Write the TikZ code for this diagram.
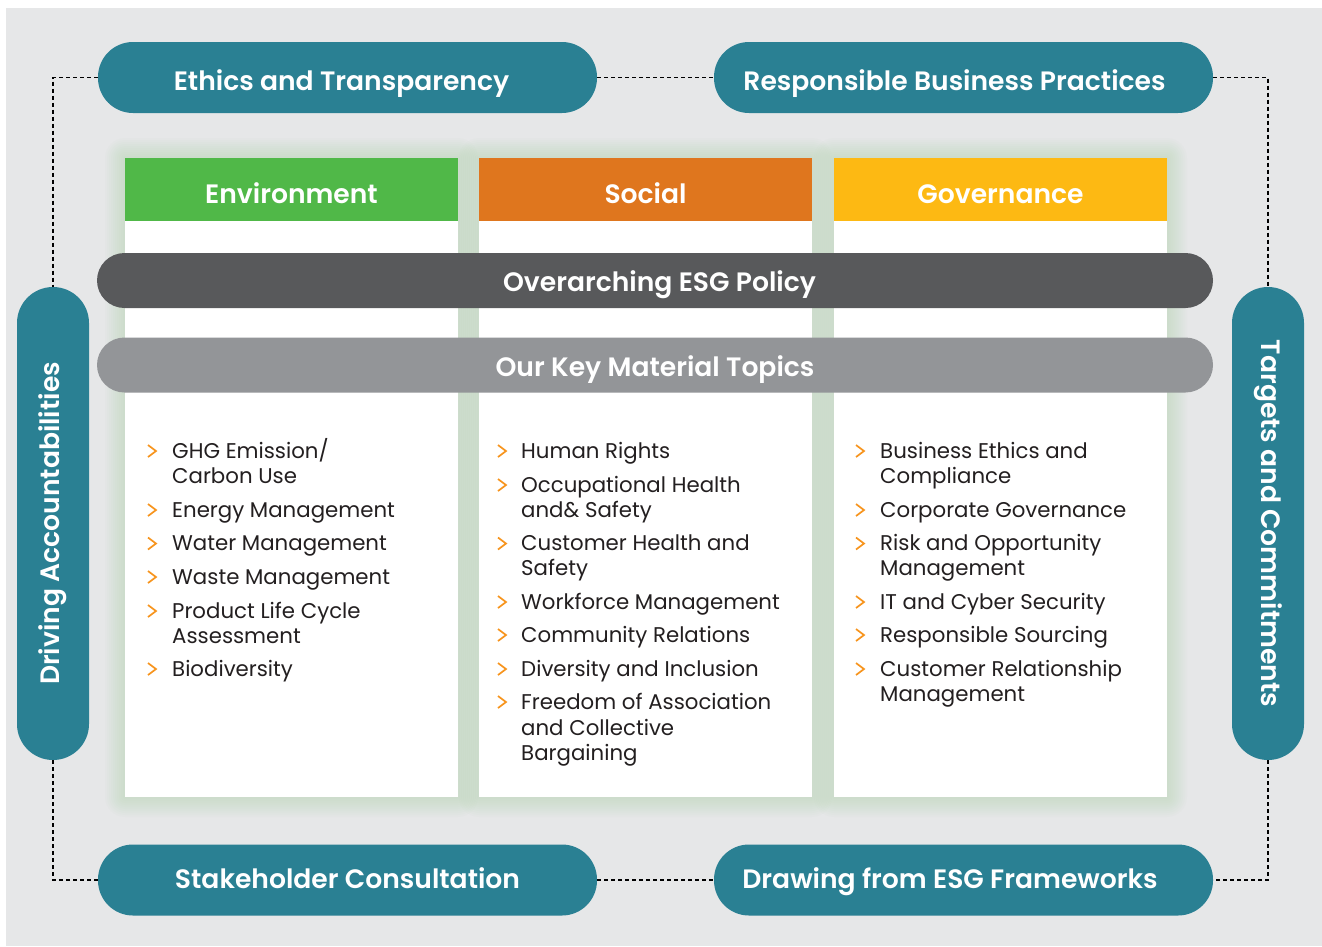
\documentclass[tikz,border=0pt]{standalone}
\usepackage{fontspec}
\setmainfont{Poppins}
\newfontfamily\psemi{Poppins SemiBold}
\usetikzlibrary{calc}
\definecolor{bgc}{HTML}{E6E7E8}
\definecolor{teal}{HTML}{2A8093}
\definecolor{envc}{HTML}{50B848}
\definecolor{socc}{HTML}{DF761E}
\definecolor{govc}{HTML}{FDB913}
\definecolor{darkbar}{HTML}{58595B}
\definecolor{lightbar}{HTML}{939598}
\definecolor{chevc}{HTML}{F7941D}
\definecolor{txtc}{HTML}{231F20}
\definecolor{glowc}{HTML}{A9CFA4}
\tikzset{
  semib/.style={font=\psemi\fontsize{26.6}{30}\selectfont},
  th/.style={text height=#1, text depth=0pt},
  pill/.style={semib, fill=teal, text=white, rounded corners=35pt, minimum width=499pt, minimum height=71pt, inner sep=0pt},
  vpill/.style={semib, fill=teal, text=white, rounded corners=36pt, minimum width=72pt, minimum height=473pt, inner sep=0pt},
  head/.style={semib, th=27pt, text=white, minimum width=333pt, minimum height=63pt, inner sep=0pt},
  colbody/.style={fill=white, minimum width=333pt, minimum height=576pt, inner sep=0pt},
  bar/.style={semib, th=21.5pt, text=white, rounded corners=27.5pt, minimum width=1116pt, minimum height=55pt, inner sep=0pt},
  link/.style={black, line width=1.2pt, dash pattern=on 4pt off 3pt},
  chev/.style={chevc, line width=1.7pt},
  itemtxt/.style={text=txtc, anchor=base west, inner sep=0pt, font=\fontsize{21.3}{25}\selectfont}
}
\begin{document}
\begin{tikzpicture}[x=1pt,y=-1pt]
\useasboundingbox (0,0) rectangle (1322,946);
\fill[bgc] (6,8) rectangle (1322,946);
% glow
\foreach \cx in {291.5,645.5,1000.5}{
  \foreach \e in {2,4,...,20}{
    \fill[glowc, opacity=0.045, rounded corners=\e pt] (\cx-166.5-\e,158-\e) rectangle (\cx+166.5+\e,797+\e);
  }
}
% column bodies and heads
\node[colbody] (envb) at (291.5,509) {};
\node[colbody] (socb) at (645.5,509) {};
\node[colbody] (govb) at (1000.5,509) {};
\node[head, fill=envc] (env) at (291.5,189.5) {Environment};
\node[head, fill=socc] (soc) at (645.5,189.5) {Social};
\node[head, fill=govc] (gov) at (1000.5,189.5) {Governance};
% bars
\node[bar, fill=darkbar] (policy) at (655,280.5) {\hspace*{9pt}Overarching ESG Policy};
\node[bar, fill=lightbar, th=22pt] (topics) at (655,365) {Our Key Material Topics};
% pills
\node[pill, th=25pt] (et) at (347.5,77.5) {\hspace*{-12pt}Ethics and Transparency};
\node[pill, th=25pt] (rb) at (963.5,77.5) {\hspace*{-18pt}Responsible Business Practices};
\node[pill, th=16pt] (sc) at (347.5,880) {Stakeholder Consultation};
\node[pill, th=16pt] (df) at (963.5,880) {\hspace*{-27pt}Drawing from ESG Frameworks};
\node[vpill] (da) at (53,523.5) {\rotatebox{90}{Driving Accountabilities}};
\node[vpill] (tc) at (1268,523.5) {\rotatebox{-90}{Targets and Commitments}};
% dashed connectors
\draw[link] (et.west) -| (da.north);
\draw[link] (et.east) -- (rb.west);
\draw[link] (rb.east) -| (tc.north);
\draw[link] (da.south) |- (sc.west);
\draw[link] (sc.east) -- (df.west);
\draw[link] (tc.south) |- (df.east);
% chevrons
\foreach \x/\y in {152/458,152/517,152/550.5,152/584,152/618,152/676,
  502/458,502/492,502/550.5,502/609,502/642,502/676,502/709,
  860/458,860/517,860/550.5,860/609,860/642,860/676}{
  \draw[chev] (\x-4,\y-13) -- (\x+4,\y-7) -- (\x-4,\y-1);
}
% items
\foreach \y/\t [count=\i] in {458/{GHG Emission/},483.5/{Carbon Use},517/{Energy Management},550.5/{Water Management},584/{Waste Management},618/{Product Life Cycle},643/{Assessment},676/{Biodiversity}}{
  \node[itemtxt] (e\i) at (172,\y) {\t};
}
\foreach \y/\t [count=\i] in {458/{Human Rights},492/{Occupational Health},517/{and\& Safety},550.5/{Customer Health and},575/{Safety},609/{Workforce Management},642/{Community Relations},676/{Diversity and Inclusion},709/{Freedom of Association},735/{and Collective},760/{Bargaining}}{
  \node[itemtxt] (s\i) at (521,\y) {\t};
}
\foreach \y/\t [count=\i] in {458/{Business Ethics and},483.5/{Compliance},517/{Corporate Governance},550.5/{Risk and Opportunity},575/{Management},609/{IT and Cyber Security},642/{Responsible Sourcing},676/{Customer Relationship},701/{Management}}{
  \node[itemtxt] (g\i) at (880,\y) {\t};
}
\end{tikzpicture}
\end{document}
